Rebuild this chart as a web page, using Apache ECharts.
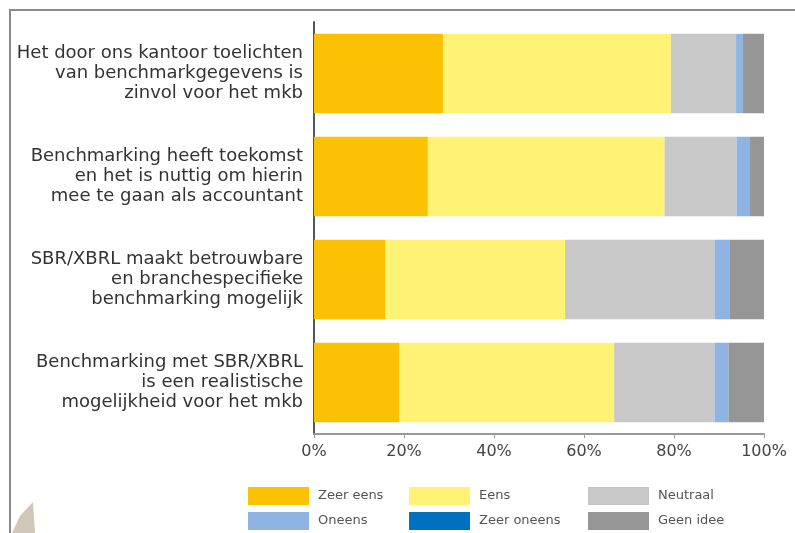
<!DOCTYPE html>
<html>
<head>
<meta charset="utf-8">
<script src="https://cdn.jsdelivr.net/npm/echarts@6/dist/echarts.min.js"></script>
<style>
html,body{margin:0;padding:0;background:#fff;}
#c{width:795px;height:533px;}
</style>
</head>
<body>
<div id="c"></div>
<script>
var categories = [
  'Het door ons kantoor toelichten\nvan benchmarkgegevens is\nzinvol voor het mkb',
  'Benchmarking heeft toekomst\nen het is nuttig om hierin\nmee te gaan als accountant',
  'SBR/XBRL maakt betrouwbare\nen branchespecifieke\nbenchmarking mogelijk',
  'Benchmarking met SBR/XBRL\nis een realistische\nmogelijkheid voor het mkb'
];
var seriesNames = ['Zeer eens', 'Eens', 'Neutraal', 'Oneens', 'Zeer oneens', 'Geen idee'];
var zeerEens   = [28.7, 25.3, 15.8, 19.0];
var eens       = [50.6, 52.6, 40.0, 47.7];
var neutraal   = [14.5, 16.0, 33.2, 22.3];
var oneens     = [1.5, 3.0, 3.3, 3.1];
var zeerOneens = [0, 0, 0, 0];
var geenIdee   = [4.7, 3.1, 7.7, 7.9];
var xTicks = [0, 20, 40, 60, 80, 100];

var seriesData = [zeerEens, eens, neutraal, oneens, zeerOneens, geenIdee];
var colors = ['#fdc104', '#fff275', '#c8c8c8', '#8db4e2', '#0070c0', '#969696'];

var chart = echarts.init(document.getElementById('c'));
function makeLegend(left, names) {
  return {
    orient: 'vertical', left: left, top: 487, height: 60, padding: 0,
    itemWidth: 61, itemHeight: 18, itemGap: 7,
    icon: 'rect', selectedMode: false, data: names,
    textStyle: { fontFamily: 'DejaVu Sans', fontSize: 13, color: '#555', padding: [0, 0, 0, 4] }
  };
}
chart.setOption({
  animation: false,
  color: colors,
  graphic: [
    { type: 'rect', shape: { x: 10, y: 10, width: 800, height: 600 },
      style: { fill: 'none', stroke: '#8a8a8a', lineWidth: 2 }, silent: true },
    { type: 'polygon', shape: { points: [[12, 533], [20, 516], [33, 502], [35, 533]] },
      style: { fill: '#cfc7b8' }, silent: true }
  ],
  legend: [
    makeLegend(248, ['Zeer eens', 'Oneens']),
    makeLegend(409, ['Eens', 'Zeer oneens']),
    makeLegend(588, ['Neutraal', 'Geen idee'])
  ],
  grid: { left: 314, right: 31, top: 22, bottom: 99, containLabel: false },
  xAxis: {
    type: 'value', min: 0, max: 100, interval: 20,
    axisLine: { show: true, lineStyle: { color: '#999', width: 2 } },
    axisTick: { show: true, length: 4, lineStyle: { color: '#999' } },
    splitLine: { show: false },
    axisLabel: {
      fontFamily: 'DejaVu Sans', fontSize: 16, color: '#444', margin: 10,
      formatter: function (v) { return xTicks.indexOf(v) >= 0 ? v + '%' : ''; }
    }
  },
  yAxis: {
    type: 'category', inverse: true, data: categories,
    axisLine: { show: true, lineStyle: { color: '#555', width: 2 } },
    axisTick: { show: false },
    axisLabel: {
      fontFamily: 'DejaVu Sans', fontSize: 18, lineHeight: 20, color: '#333',
      align: 'right', margin: 11
    }
  },
  series: seriesNames.map(function (n, i) {
    return {
      name: n, type: 'bar', stack: 'all', data: seriesData[i],
      barCategoryGap: '23%'
    };
  })
});
</script>
</body>
</html>
